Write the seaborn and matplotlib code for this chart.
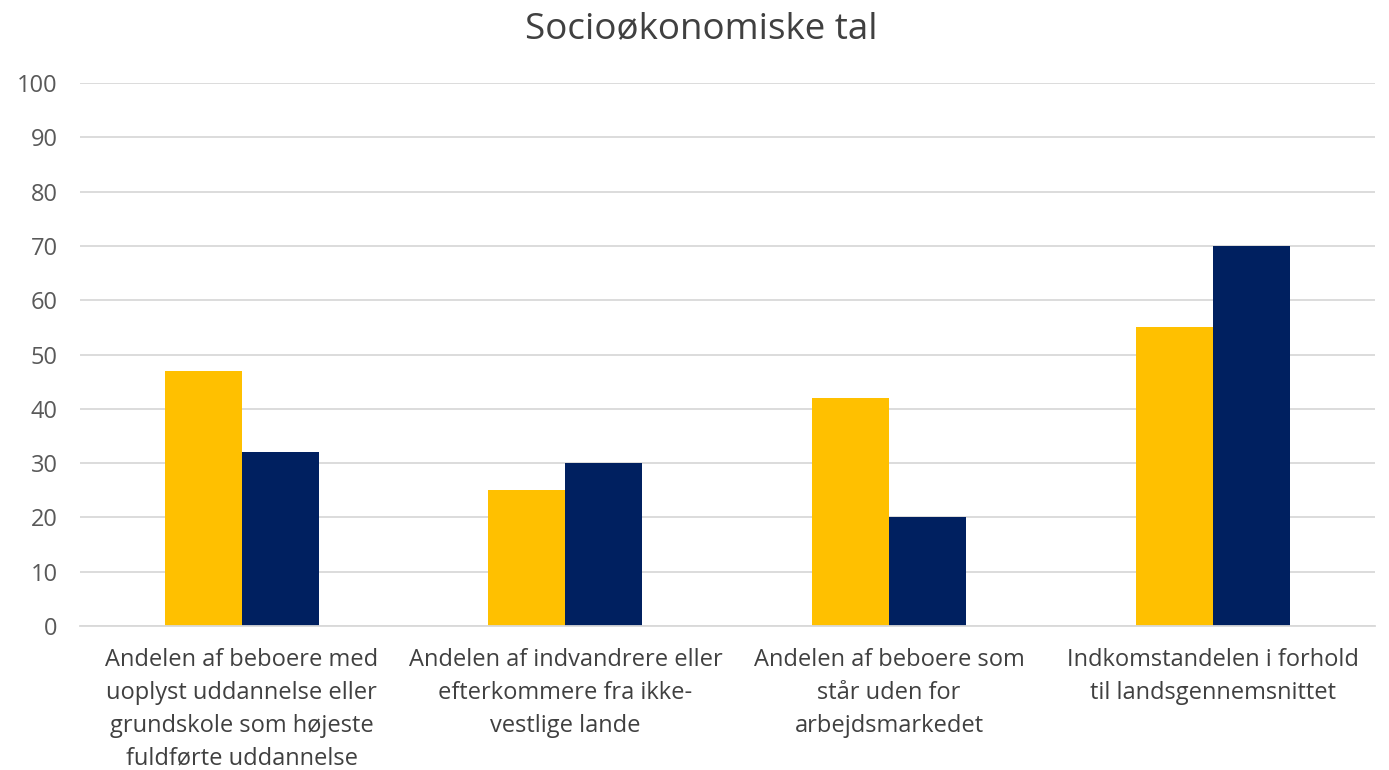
import matplotlib.pyplot as plt
import pandas as pd
import seaborn as sns

categories = [
    "Andelen af beboere med\nuoplyst uddannelse eller\ngrundskole som højeste\nfuldførte uddannelse",
    "Andelen af indvandrere eller\nefterkommere fra ikke-\nvestlige lande",
    "Andelen af beboere som\nstår uden for\narbejdsmarkedet",
    "Indkomstandelen i forhold\ntil landsgennemsnittet",
]
series_names = ["Område", "Landsgennemsnit"]
area_values = [47, 25, 42, 55]
national_values = [32, 30, 20, 70]

df = pd.DataFrame({
    "kategori": categories * 2,
    "serie": [series_names[0]] * 4 + [series_names[1]] * 4,
    "værdi": area_values + national_values,
})

sns.set_style("white")
plt.rcParams["font.family"] = ["Open Sans", "DejaVu Sans"]

fig = plt.figure(figsize=(13.89, 7.70), dpi=100)
ax = fig.add_axes([0.0576, 0.187, 0.932, 0.705])

sns.barplot(data=df, x="kategori", y="værdi", hue="serie",
            palette=["#FFC000", "#002060"], width=0.476,
            saturation=1, linewidth=0, legend=False, ax=ax)

ax.set_ylim(0, 100)
ax.set_yticks(range(0, 101, 10))
ax.yaxis.grid(True, color="#d9d9d9", linewidth=1.3)
ax.set_axisbelow(True)
for s in ["top", "right", "left"]:
    ax.spines[s].set_visible(False)
ax.spines["bottom"].set_color("#d9d9d9")
ax.spines["bottom"].set_linewidth(1.3)
ax.tick_params(axis="y", length=0, labelsize=17, labelcolor="#595959", pad=16)
ax.tick_params(axis="x", length=0, labelsize=17, labelcolor="#404040", pad=16)
for lbl in ax.get_xticklabels():
    lbl.set_linespacing(1.48)
ax.set_xlabel("")
ax.set_ylabel("")
fig.suptitle("Socioøkonomiske tal", fontsize=26.5, color="#404040", y=0.986, x=0.505)

fig.savefig("out.png", dpi=100)
